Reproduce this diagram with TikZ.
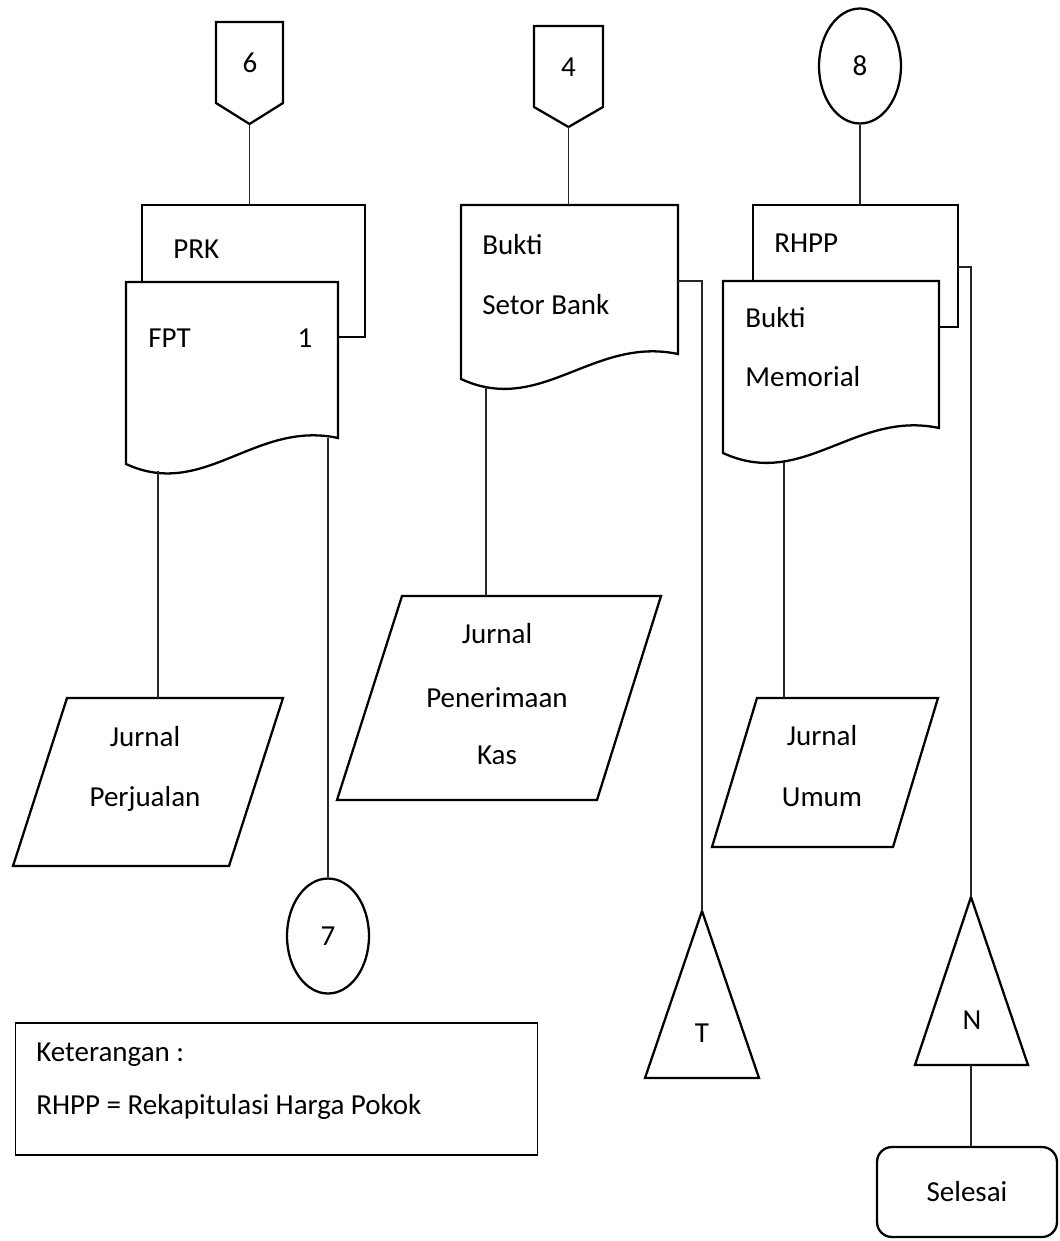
\documentclass[tikz,border=0pt]{standalone}
\usepackage{fontspec}
\setmainfont{Carlito}
\usetikzlibrary{shapes.geometric}
\begin{document}
\begin{tikzpicture}[x=0.02cm,y=-0.02cm,
  shapeline/.style={line width=1.3pt, line join=miter, fill=white},
  conn/.style={line width=0.6pt, draw=black!85},
  lbl/.style={inner sep=0pt, anchor=base, font=\fontsize{16.5}{20}\selectfont},
  lbll/.style={lbl, anchor=base west},
  connector/.style={ellipse, draw, line width=1.3pt, inner sep=0pt,
    minimum width=1.64cm, minimum height=2.3cm, font=\fontsize{16.5}{20}\selectfont},
  terminal/.style={draw, line width=1.3pt, rounded corners=0.3cm,
    minimum width=3.6cm, minimum height=1.8cm, font=\fontsize{16.5}{20}\selectfont},
]
\useasboundingbox (0,0) rectangle (1059,1241);

% ---------- column 1: off-page connector 6, PRK + FPT ----------
\draw[shapeline] (216,22) -- (283,22) -- (283,103) -- (249.5,124) -- (216,103) -- cycle;
\node[lbl] (n6) at (250,72) {6};
\coordinate (p6) at (249.5,124);

\draw[shapeline] (142,205) rectangle (365,337);
\coordinate (prkTop) at (249.5,205);
\node[lbll] (prk) at (173,258) {PRK};

\draw[shapeline] (126,464) -- (126,282) -- (338,282) -- (338,438)
  .. controls (255,420) and (204,500) .. (126,464) -- cycle;
\node[lbll] (fpt) at (148,347) {FPT};
\node[lbl] (fptNo) at (305,347) {1};
\coordinate (fptL) at (158,471);
\coordinate (fptR) at (328,438);

% Jurnal Perjualan
\draw[shapeline] (67,698) -- (283,698) -- (229,866) -- (13,866) -- cycle;
\coordinate (jpTop) at (158,698);
\node[lbl] (jp1) at (145,746) {Jurnal};
\node[lbl] (jp2) at (145,806) {Perjualan};

% on-page connector 7
\node[connector] (c7) at (328,936) {7};

% ---------- column 2: off-page connector 4, Bukti Setor Bank ----------
\draw[shapeline] (534,26) -- (603,26) -- (603,107) -- (568.5,127) -- (534,107) -- cycle;
\node[lbl] (n4) at (568.5,76) {4};
\coordinate (p4) at (568.5,127);

\draw[shapeline] (461,379) -- (461,205) -- (678,205) -- (678,354)
  .. controls (593,336) and (541,416) .. (461,379) -- cycle;
\coordinate (bsbTop) at (568.5,205);
\node[lbll] (bsb1) at (482,254) {Bukti};
\node[lbll] (bsb2) at (482,314) {Setor Bank};
\coordinate (bsbB) at (486,387);
\coordinate (bsbR) at (678,281);
\coordinate (bsbBend) at (702,281);

% Jurnal Penerimaan Kas
\draw[shapeline] (402,596) -- (661,596) -- (597,800) -- (337,800) -- cycle;
\coordinate (jpkTop) at (486,596);
\node[lbl] (jpk1) at (497,643) {Jurnal};
\node[lbl] (jpk2) at (497,707) {Penerimaan};
\node[lbl] (jpk3) at (497,764) {Kas};

% file T
\draw[shapeline] (702,911) -- (759,1078) -- (645,1078) -- cycle;
\coordinate (tTop) at (702,911);
\node[lbl] (tl) at (702,1042) {T};

% ---------- column 3: connector 8, RHPP + Bukti Memorial ----------
\node[connector] (c8) at (860,66) {8};

\draw[shapeline] (753,205) rectangle (958,327);
\coordinate (rhppTop) at (860,205);
\node[lbll] (rhpp) at (774,252) {RHPP};
\coordinate (rhppR) at (958,267);
\coordinate (rhppBend) at (971,267);

\draw[shapeline] (723,453) -- (723,281) -- (939,281) -- (939,428)
  .. controls (855,410) and (803,490) .. (723,453) -- cycle;
\node[lbll] (bm1) at (745,327) {Bukti};
\node[lbll] (bm2) at (745,386) {Memorial};
\coordinate (bmB) at (784,462);

% Jurnal Umum
\draw[shapeline] (757,698) -- (938,698) -- (893,847) -- (712,847) -- cycle;
\coordinate (juTop) at (784,698);
\node[lbl] (ju1) at (822,745) {Jurnal};
\node[lbl] (ju2) at (822,806) {Umum};

% file N
\draw[shapeline] (971,897) -- (1028,1065) -- (915,1065) -- cycle;
\coordinate (nTop) at (971,897);
\coordinate (nBot) at (971,1065);
\node[lbl] (nl) at (972,1029) {N};

% terminator
\node[terminal] (end) at (967,1192) {Selesai};

% ---------- legend ----------
\node[draw, line width=0.6pt, minimum width=10.46cm, minimum height=2.64cm, inner sep=0pt]
  (ket) at (276.5,1089) {};
\node[lbll] (ket1) at (36,1061) {Keterangan :};
\node[lbll] (ket2) at (36,1114) {RHPP = Rekapitulasi Harga Pokok};

% ---------- flow lines ----------
\draw[conn] (p6) -- (prkTop);
\draw[conn] (fptL) -- (jpTop);
\draw[conn] (fptR) -- (c7.north);
\draw[conn] (p4) -- (bsbTop);
\draw[conn] (bsbB) -- (jpkTop);
\draw[conn] (bsbR) -- (bsbBend) -- (tTop);
\draw[conn] (c8.south) -- (rhppTop);
\draw[conn] (bmB) -- (juTop);
\draw[conn] (rhppR) -- (rhppBend) -- (nTop);
\draw[conn] (nBot) -- (nBot |- end.north);
\end{tikzpicture}
\end{document}
